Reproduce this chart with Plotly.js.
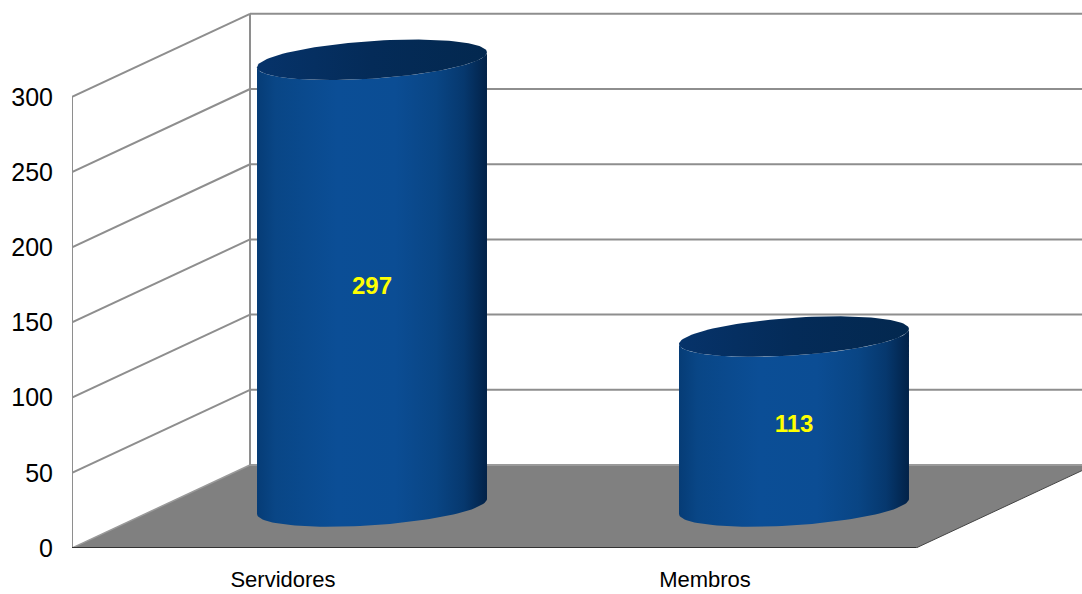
<!DOCTYPE html>
<html>
<head>
<meta charset="utf-8">
<script src="https://cdn.plot.ly/plotly-3.0.1.min.js"></script>
<style>html,body{margin:0;padding:0;background:#fff;}#chart{width:1082px;height:594px;}</style>
</head>
<body>
<div id="chart"></div>
<script>
// ---- data ----
const categories = ['Servidores', 'Membros'];
const values = [297, 113];
const yTickValues = [0, 50, 100, 150, 200, 250, 300];
const wallTop = 300;

// ---- 3D look (style constants) ----
const DX = 0.4218;     // depth offset in x-axis units
const DY = 55.2;       // depth offset in y-axis units
const HALF_W = 0.2725; // cylinder half width (x units)
const EB = 12.5;       // ellipse half height (y units)
const EK = 5;          // ellipse tilt (y units)
const LABEL_SHIFT = -3.3;
const X_MIN = -0.5, X_MAX = 1.8934, Y_MAX = 364.4;
const N = 60;

function ellipsePt(cx, cy, t) {
  return [cx + HALF_W * Math.cos(t), cy + EB * Math.sin(t) + EK * Math.cos(t)];
}

const traces = [];
categories.forEach((cat, i) => {
  const cx = i + DX / 2;
  const base = DY / 2;
  const top = base + values[i];
  const bx = [], by = [];
  for (let j = 0; j <= N; j++) {
    const t = Math.PI + Math.PI * j / N;
    const p = ellipsePt(cx, base, t); bx.push(p[0]); by.push(p[1]);
  }
  for (let j = 0; j <= N; j++) {
    const t = 2 * Math.PI - Math.PI * j / N;
    const p = ellipsePt(cx, top, t); bx.push(p[0]); by.push(p[1]);
  }
  traces.push({
    type: 'scatter', mode: 'lines', x: bx, y: by, fill: 'toself',
    line: {width: 0, color: 'rgba(0,0,0,0)'},
    fillcolor: '#0a4a8c',
    fillgradient: {type: 'horizontal', colorscale: [
      [0, '#063c76'], [0.08, '#094686'], [0.35, '#0b4e96'], [0.6, '#0b4d94'],
      [0.78, '#094584'], [0.9, '#06386e'], [1, '#022248']]},
    hoverinfo: 'skip', showlegend: false
  });
  const tx = [], ty = [];
  for (let j = 0; j <= N * 2; j++) {
    const t = 2 * Math.PI * j / (N * 2);
    const p = ellipsePt(cx, top, t); tx.push(p[0]); ty.push(p[1]);
  }
  traces.push({
    type: 'scatter', mode: 'lines', x: tx, y: ty, fill: 'toself',
    line: {width: 0, color: 'rgba(0,0,0,0)'},
    fillcolor: '#042b56',
    fillgradient: {type: 'horizontal', colorscale: [[0, '#06336a'], [0.5, '#042b58'], [1, '#03284f']]},
    hoverinfo: 'skip', showlegend: false
  });
  traces.push({
    type: 'scatter', mode: 'text', x: [cx], y: [base + values[i] / 2 + LABEL_SHIFT],
    text: [String(values[i])],
    textfont: {family: 'Liberation Sans, Arial, sans-serif', size: 24, color: '#ffff00', weight: 'bold'},
    textposition: 'middle center', hoverinfo: 'skip', showlegend: false
  });
});

// ---- walls, floor, gridlines as shapes in axis coordinates ----
const GRID = '#8e8e8e';
const shapes = [];
shapes.push({type: 'path', xref: 'x', yref: 'y', layer: 'below',
  path: `M ${X_MIN} 0 L ${X_MIN + DX} ${DY} L ${1.5 + DX} ${DY} L 1.5 0 Z`,
  fillcolor: '#808080', line: {width: 0}});
yTickValues.forEach(v => {
  if (v > 0) {
    shapes.push({type: 'line', xref: 'x', yref: 'y', layer: 'below',
      x0: X_MIN + DX, x1: X_MAX, y0: v + DY, y1: v + DY, line: {color: GRID, width: 2}});
    shapes.push({type: 'line', xref: 'x', yref: 'y', layer: 'below',
      x0: X_MIN, x1: X_MIN + DX, y0: v, y1: v + DY, line: {color: GRID, width: 2}});
  }
});
shapes.push({type: 'line', xref: 'x', yref: 'y', layer: 'below',
  x0: X_MIN, x1: X_MIN + DX, y0: 0, y1: DY, line: {color: '#9a9a9a', width: 1.5}});
shapes.push({type: 'line', xref: 'x', yref: 'y', layer: 'below',
  x0: X_MIN + DX, x1: X_MAX, y0: DY, y1: DY, line: {color: '#9a9a9a', width: 2}});
shapes.push({type: 'line', xref: 'x', yref: 'y', layer: 'below',
  x0: X_MIN, x1: X_MIN, y0: 0, y1: wallTop, line: {color: GRID, width: 2}});
shapes.push({type: 'line', xref: 'x', yref: 'y', layer: 'below',
  x0: X_MIN + DX, x1: X_MIN + DX, y0: DY, y1: wallTop + DY, line: {color: GRID, width: 2}});
shapes.push({type: 'line', xref: 'x', yref: 'y', layer: 'below',
  x0: X_MIN, x1: 1.5, y0: 0, y1: 0, line: {color: '#333333', width: 2}});
shapes.push({type: 'line', xref: 'x', yref: 'y', layer: 'below',
  x0: 1.5, x1: 1.5 + DX, y0: 0, y1: DY, line: {color: '#444444', width: 1}});

const layout = {
  width: 1082, height: 594,
  margin: {l: 72, r: 0, t: 0, b: 46, pad: 0},
  paper_bgcolor: '#ffffff', plot_bgcolor: '#ffffff',
  showlegend: false,
  xaxis: {range: [X_MIN, X_MAX], tickvals: [0, 1], ticktext: categories,
    showgrid: false, zeroline: false, showline: false, ticks: '',
    ticklabelstandoff: 16,
    tickfont: {family: 'Liberation Sans, Arial, sans-serif', size: 22, color: '#000'}},
  yaxis: {range: [0, Y_MAX], tickvals: yTickValues, ticktext: yTickValues.map(String),
    showgrid: false, zeroline: false, showline: false, ticks: '',
    ticklabelstandoff: 18,
    tickfont: {family: 'Liberation Sans, Arial, sans-serif', size: 25, color: '#000'}},
  shapes: shapes
};

Plotly.newPlot('chart', traces, layout, {staticPlot: true, displayModeBar: false});
</script>
</body>
</html>
